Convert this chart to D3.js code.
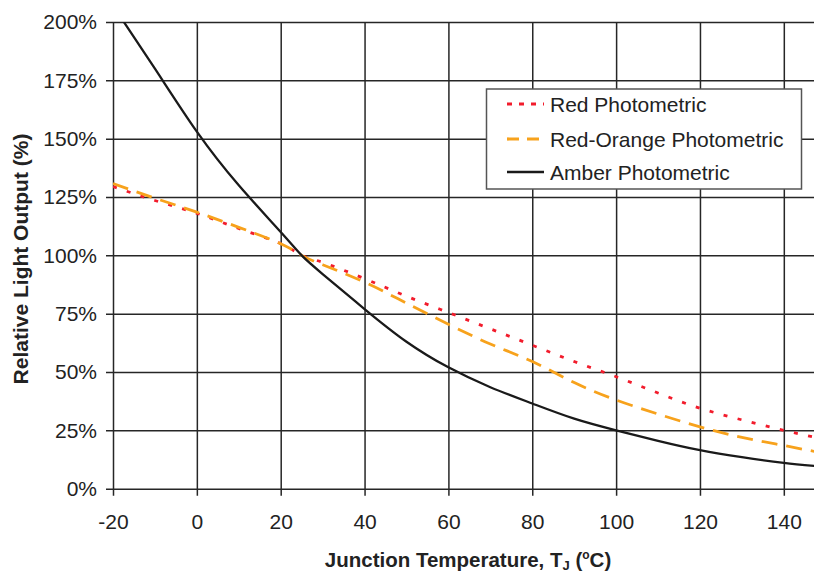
<!DOCTYPE html>
<html>
<head>
<meta charset="utf-8">
<script src="https://cdn.jsdelivr.net/npm/d3@7"></script>
<style>
  body { margin: 0; background: #fff; }
  svg { display: block; font-family: "Liberation Sans", Arial, sans-serif; }
</style>
</head>
<body>
<div class="chartWrap"></div>
<script>
// values
var temps = [-20, -10, 0, 10, 20, 25, 30, 40, 50, 60, 70, 80, 90, 100, 110, 120, 130, 140, 150];
var redVals = [129.5, 123.5, 118, 111.5, 105, 100, 97, 90, 82.5, 75.5, 68.5, 61.5, 54.5, 48, 41, 34.5, 29.5, 25, 21];
var redOrangeVals = [130.8, 124.5, 118.5, 112, 105, 100, 96, 88.5, 79.5, 70.5, 62, 54.5, 45.5, 38, 32, 26.5, 22, 18.5, 15];
var amberVals = [207, 180, 153, 130, 110, 100, 92, 77, 63, 52, 43.5, 36.5, 30, 25, 20.5, 16.5, 13.5, 11.1, 9.3];
var xTicks = [-20, 0, 20, 40, 60, 80, 100, 120, 140];
var yTicks = [0, 25, 50, 75, 100, 125, 150, 175, 200];
var seriesNames = ['Red Photometric', 'Red-Orange Photometric', 'Amber Photometric'];

var chart = {
  init: function(){
    self = this;
    self.width = 814;
    self.height = 573;
    self.left = 113;
    self.right = 814;
    self.top = 22;
    self.bottom = 488.7;
    self.series = [
      {name: seriesNames[0], vals: redVals, color: '#f21c2c', width: 2.8, dash: '4,10.5'},
      {name: seriesNames[1], vals: redOrangeVals, color: '#f7a21c', width: 2.8, dash: '16,9'},
      {name: seriesNames[2], vals: amberVals, color: '#1a1a1a', width: 2.3, dash: null}
    ];

    self.svg = d3.select('.chartWrap')
      .append('svg')
      .attr('width', self.width)
      .attr('height', self.height);

    self.x = d3.scaleLinear().domain([-20, 147.2]).range([self.left, self.right]);
    self.y = d3.scaleLinear().domain([0, 200]).range([self.bottom, self.top]);

    self.drawAxes();
    self.drawLines();
    self.drawLegend();
    self.drawTitles();
  },

  drawAxes: function(){
    var plotW = self.right - self.left;
    var plotH = self.bottom - self.top;

    var yAxis = self.svg.append('g')
      .attr('transform', 'translate(' + self.left + ',0)')
      .call(d3.axisLeft(self.y)
        .tickValues(yTicks)
        .tickSizeInner(-plotW)
        .tickSizeOuter(0)
        .tickPadding(16)
        .tickFormat(function(d){ return d + '%'; }));
    yAxis.select('.domain').remove();
    yAxis.selectAll('.tick line')
      .attr('x1', -7)
      .attr('stroke', '#262626')
      .attr('stroke-width', 1.5);
    yAxis.selectAll('.tick text')
      .attr('fill', '#222')
      .style('font-size', '21px');

    var xAxis = self.svg.append('g')
      .attr('transform', 'translate(0,' + self.bottom + ')')
      .call(d3.axisBottom(self.x)
        .tickValues(xTicks)
        .tickSizeInner(-plotH)
        .tickSizeOuter(0)
        .tickPadding(25)
        .tickFormat(function(d){ return String(d); }));
    xAxis.select('.domain').remove();
    xAxis.selectAll('.tick line')
      .attr('y1', 7)
      .attr('stroke', '#262626')
      .attr('stroke-width', 1.5);
    xAxis.selectAll('.tick text')
      .attr('fill', '#222')
      .style('font-size', '21px');
  },

  drawLines: function(){
    self.svg.append('clipPath')
      .attr('id', 'plotClip')
      .append('rect')
      .attr('x', self.left)
      .attr('y', self.top)
      .attr('width', self.right - self.left)
      .attr('height', self.bottom - self.top);

    var line = d3.line()
      .x(function(d){ return self.x(d[0]); })
      .y(function(d){ return self.y(d[1]); })
      .curve(d3.curveNatural);

    self.svg.append('g')
      .attr('clip-path', 'url(#plotClip)')
      .selectAll('path')
      .data(self.series)
      .enter()
        .append('path')
        .attr('d', function(s){
          return line(temps.map(function(t, i){ return [t, s.vals[i]]; }));
        })
        .style('fill', 'none')
        .style('stroke', function(s){ return s.color; })
        .style('stroke-width', function(s){ return s.width; })
        .style('stroke-dasharray', function(s){ return s.dash; });
  },

  drawLegend: function(){
    var lg = self.svg.append('g').attr('class', 'legend');
    lg.append('rect')
      .attr('x', 486.5)
      .attr('y', 89)
      .attr('width', 315)
      .attr('height', 100)
      .style('fill', '#fff')
      .style('stroke', '#555')
      .style('stroke-width', 1.5);

    var rows = [104, 139, 172];
    var items = lg.selectAll('.item')
      .data(self.series)
      .enter()
        .append('g')
        .attr('class', 'item')
        .attr('transform', function(d, i){ return 'translate(0,' + rows[i] + ')'; });

    items.append('line')
      .attr('x1', 507)
      .attr('x2', 544)
      .attr('y1', 0)
      .attr('y2', 0)
      .style('stroke', function(d){ return d.color; })
      .style('stroke-width', function(d){ return d.width + 0.4; })
      .style('stroke-dasharray', function(d, i){ return i == 0 ? '5,7' : (i == 1 ? '12,8' : null); });

    items.append('text')
      .attr('x', 550)
      .attr('y', 7.5)
      .style('font-size', '21px')
      .style('fill', '#222')
      .text(function(d){ return d.name; });
  },

  drawTitles: function(){
    var xt = self.svg.append('text')
      .attr('x', 468)
      .attr('y', 567)
      .attr('text-anchor', 'middle')
      .style('font-size', '20.5px')
      .style('font-weight', 'bold')
      .style('fill', '#222');
    xt.append('tspan').text('Junction Temperature, T');
    xt.append('tspan').attr('dy', 3).style('font-size', '13px').text('J');
    xt.append('tspan').attr('dy', -3).text(' (');
    xt.append('tspan').attr('dy', -8).style('font-size', '12px').text('o');
    xt.append('tspan').attr('dy', 8).text('C)');

    self.svg.append('text')
      .attr('transform', 'translate(28,259) rotate(-90)')
      .attr('text-anchor', 'middle')
      .style('font-size', '21px')
      .style('font-weight', 'bold')
      .style('fill', '#222')
      .text('Relative Light Output (%)');
  }
};

chart.init();
</script>
</body>
</html>
